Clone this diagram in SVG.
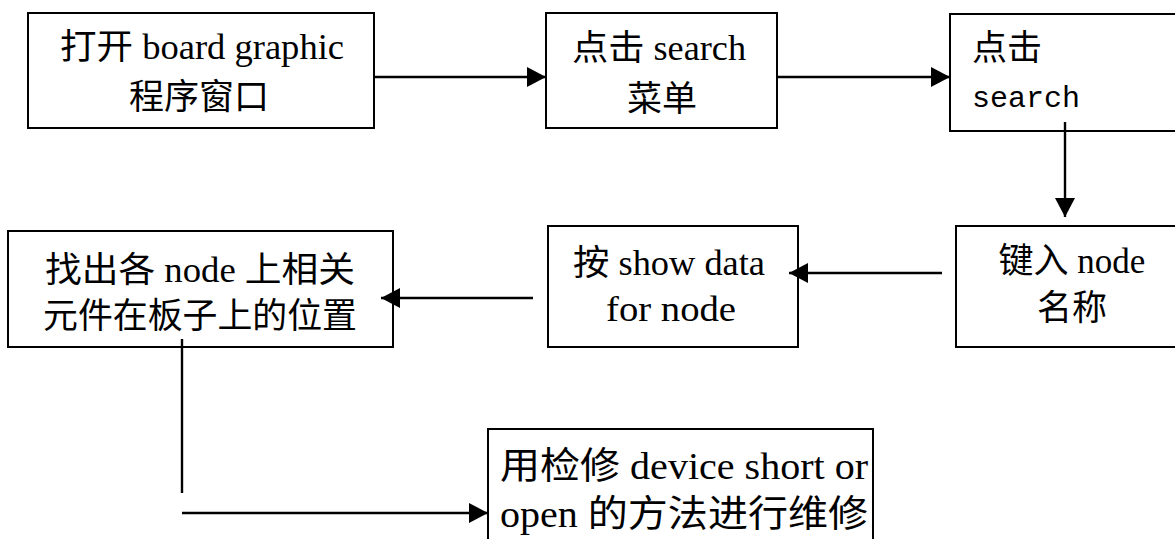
<svg xmlns="http://www.w3.org/2000/svg" width="1175" height="539" viewBox="0 0 1175 539">
<style>
.box{fill:#fff;stroke:#000;stroke-width:2}
.t{font-family:'Liberation Serif','Noto Sans CJK SC',serif;font-size:35px;fill:#000;text-anchor:middle}
.s{text-anchor:start}
.b{font-size:37px}
.m{font-family:'Liberation Mono','Noto Sans CJK SC',monospace;font-size:30px;fill:#000}
.c{fill:none;stroke:#000;stroke-width:2.4}
</style>
<defs>
<marker id="ah" markerUnits="userSpaceOnUse" markerWidth="19" markerHeight="20" refX="19" refY="10" orient="auto" viewBox="0 0 19 20">
<path d="M0,0 L19,10 L0,20 z" fill="#000"/>
</marker>
</defs>
<rect width="1175" height="539" fill="#fff"/>
<g id="n1"><rect class="box" x="28" y="13" width="346" height="115"/>
<text class="t" x="202" y="59" textLength="284" lengthAdjust="spacingAndGlyphs">打开 board graphic</text>
<text class="t" x="199" y="109">程序窗口</text></g>
<g id="n2"><rect class="box" x="546" y="13" width="231" height="115"/>
<text class="t" x="659" y="60" textLength="174" lengthAdjust="spacingAndGlyphs">点击 search</text>
<text class="t" x="662" y="111">菜单</text></g>
<g id="n3"><rect class="box" x="950" y="14" width="232" height="117"/>
<text class="t s" x="972" y="60">点击</text>
<text class="m" x="972" y="107">search</text></g>
<g id="n4"><rect class="box" x="956" y="226" width="226" height="121"/>
<text class="t" x="1072" y="273">键入 node</text>
<text class="t" x="1072" y="320">名称</text></g>
<g id="n5"><rect class="box" x="548" y="226" width="250" height="121"/>
<text class="t" x="669" y="275" textLength="192" lengthAdjust="spacingAndGlyphs">按 show data</text>
<text class="t" x="671" y="321" textLength="130" lengthAdjust="spacingAndGlyphs">for node</text></g>
<g id="n6"><rect class="box" x="8" y="231" width="385" height="116"/>
<text class="t" x="200" y="282" textLength="310" lengthAdjust="spacingAndGlyphs">找出各 node 上相关</text>
<text class="t" x="200" y="328" textLength="314" lengthAdjust="spacingAndGlyphs">元件在板子上的位置</text></g>
<g id="n7"><rect class="box" x="488" y="429" width="385" height="116"/>
<text class="t b" x="684" y="479" textLength="368" lengthAdjust="spacingAndGlyphs">用检修 device short or</text>
<text class="t b" x="684" y="527" textLength="368" lengthAdjust="spacingAndGlyphs">open 的方法进行维修</text></g>
<g id="connectors">
<path class="c" d="M375,77 H546" marker-end="url(#ah)"/>
<path class="c" d="M777,77 H950" marker-end="url(#ah)"/>
<path class="c" d="M1065,122 V217" marker-end="url(#ah)"/>
<path class="c" d="M942,273 H789" marker-end="url(#ah)"/>
<path class="c" d="M533,298 H381" marker-end="url(#ah)"/>
<path class="c" d="M182,339 V493"/>
<path class="c" d="M182,513 H488" marker-end="url(#ah)"/>
</g>
</svg>
